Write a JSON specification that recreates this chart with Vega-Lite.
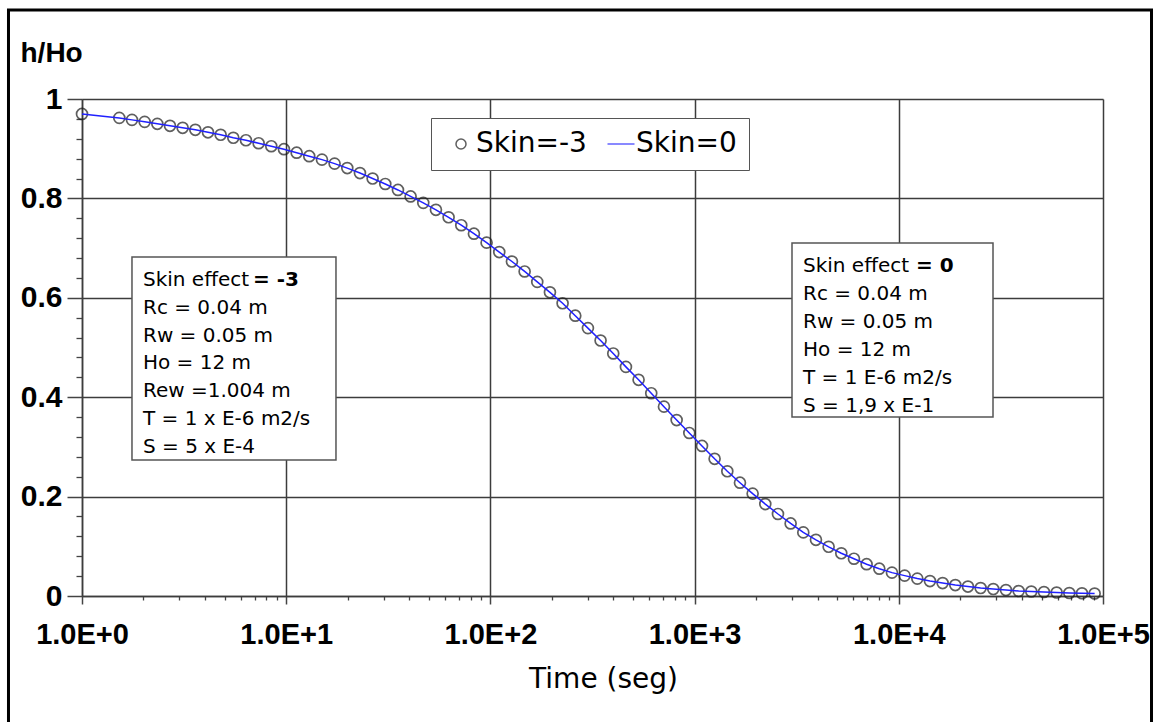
{
  "$schema": "https://vega.github.io/schema/vega-lite/v6.json",
  "width": 1021,
  "height": 497,
  "autosize": {"type": "none"},
  "padding": {"left": 82, "top": 99, "right": 56, "bottom": 126},
  "background": "white",
  "config": {
    "view": {"stroke": null},
    "legend": {
      "orient": "none",
      "legendX": 349,
      "legendY": 19,
      "direction": "horizontal",
      "padding": 12,
      "strokeColor": "#555",
      "fillColor": "white",
      "labelFont": "DejaVu Sans",
      "labelFontSize": 28,
      "labelColor": "black",
      "symbolSize": 100,
      "symbolStrokeWidth": 1.5,
      "symbolOffset": 4,
      "labelOffset": 1,
      "columnPadding": 16,
      "labelLimit": 400
    }
  },
  "data": {
    "values": [
      {"time": 1, "skin_m3": 0.970, "skin_0": 0.970},
      {"time": 1.523, "skin_m3": 0.962, "skin_0": 0.962},
      {"time": 1.757, "skin_m3": 0.958, "skin_0": 0.958},
      {"time": 2.027, "skin_m3": 0.954, "skin_0": 0.954},
      {"time": 2.338, "skin_m3": 0.950, "skin_0": 0.950},
      {"time": 2.697, "skin_m3": 0.946, "skin_0": 0.946},
      {"time": 3.111, "skin_m3": 0.942, "skin_0": 0.942},
      {"time": 3.589, "skin_m3": 0.938, "skin_0": 0.938},
      {"time": 4.140, "skin_m3": 0.933, "skin_0": 0.933},
      {"time": 4.775, "skin_m3": 0.928, "skin_0": 0.928},
      {"time": 5.508, "skin_m3": 0.922, "skin_0": 0.922},
      {"time": 6.353, "skin_m3": 0.917, "skin_0": 0.917},
      {"time": 7.328, "skin_m3": 0.911, "skin_0": 0.911},
      {"time": 8.453, "skin_m3": 0.905, "skin_0": 0.905},
      {"time": 9.752, "skin_m3": 0.899, "skin_0": 0.899},
      {"time": 11.25, "skin_m3": 0.892, "skin_0": 0.892},
      {"time": 12.97, "skin_m3": 0.885, "skin_0": 0.885},
      {"time": 14.97, "skin_m3": 0.878, "skin_0": 0.878},
      {"time": 17.26, "skin_m3": 0.870, "skin_0": 0.870},
      {"time": 19.91, "skin_m3": 0.861, "skin_0": 0.861},
      {"time": 22.97, "skin_m3": 0.851, "skin_0": 0.851},
      {"time": 26.50, "skin_m3": 0.840, "skin_0": 0.840},
      {"time": 30.56, "skin_m3": 0.829, "skin_0": 0.829},
      {"time": 35.26, "skin_m3": 0.817, "skin_0": 0.817},
      {"time": 40.67, "skin_m3": 0.804, "skin_0": 0.804},
      {"time": 46.91, "skin_m3": 0.791, "skin_0": 0.791},
      {"time": 54.11, "skin_m3": 0.777, "skin_0": 0.777},
      {"time": 62.42, "skin_m3": 0.762, "skin_0": 0.762},
      {"time": 72.00, "skin_m3": 0.746, "skin_0": 0.746},
      {"time": 83.05, "skin_m3": 0.729, "skin_0": 0.729},
      {"time": 95.79, "skin_m3": 0.711, "skin_0": 0.711},
      {"time": 110.5, "skin_m3": 0.692, "skin_0": 0.692},
      {"time": 127.5, "skin_m3": 0.673, "skin_0": 0.673},
      {"time": 147.1, "skin_m3": 0.653, "skin_0": 0.653},
      {"time": 169.6, "skin_m3": 0.632, "skin_0": 0.632},
      {"time": 195.7, "skin_m3": 0.611, "skin_0": 0.611},
      {"time": 225.7, "skin_m3": 0.589, "skin_0": 0.589},
      {"time": 260.4, "skin_m3": 0.564, "skin_0": 0.564},
      {"time": 300.3, "skin_m3": 0.539, "skin_0": 0.539},
      {"time": 346.4, "skin_m3": 0.514, "skin_0": 0.514},
      {"time": 399.6, "skin_m3": 0.488, "skin_0": 0.488},
      {"time": 461.0, "skin_m3": 0.461, "skin_0": 0.461},
      {"time": 531.7, "skin_m3": 0.435, "skin_0": 0.435},
      {"time": 613.3, "skin_m3": 0.408, "skin_0": 0.408},
      {"time": 707.9, "skin_m3": 0.381, "skin_0": 0.381},
      {"time": 816.6, "skin_m3": 0.354, "skin_0": 0.354},
      {"time": 942.0, "skin_m3": 0.328, "skin_0": 0.328},
      {"time": 1087, "skin_m3": 0.302, "skin_0": 0.302},
      {"time": 1253, "skin_m3": 0.276, "skin_0": 0.276},
      {"time": 1446, "skin_m3": 0.251, "skin_0": 0.251},
      {"time": 1668, "skin_m3": 0.228, "skin_0": 0.228},
      {"time": 1924, "skin_m3": 0.206, "skin_0": 0.206},
      {"time": 2219, "skin_m3": 0.185, "skin_0": 0.185},
      {"time": 2560, "skin_m3": 0.165, "skin_0": 0.165},
      {"time": 2953, "skin_m3": 0.146, "skin_0": 0.146},
      {"time": 3406, "skin_m3": 0.128, "skin_0": 0.128},
      {"time": 3929, "skin_m3": 0.113, "skin_0": 0.113},
      {"time": 4533, "skin_m3": 0.099, "skin_0": 0.099},
      {"time": 5228, "skin_m3": 0.086, "skin_0": 0.086},
      {"time": 6031, "skin_m3": 0.075, "skin_0": 0.075},
      {"time": 6957, "skin_m3": 0.064, "skin_0": 0.064},
      {"time": 8026, "skin_m3": 0.055, "skin_0": 0.055},
      {"time": 9259, "skin_m3": 0.047, "skin_0": 0.047},
      {"time": 10680, "skin_m3": 0.041, "skin_0": 0.041},
      {"time": 12320, "skin_m3": 0.035, "skin_0": 0.035},
      {"time": 14210, "skin_m3": 0.030, "skin_0": 0.030},
      {"time": 16390, "skin_m3": 0.026, "skin_0": 0.026},
      {"time": 18910, "skin_m3": 0.022, "skin_0": 0.022},
      {"time": 21810, "skin_m3": 0.019, "skin_0": 0.019},
      {"time": 25160, "skin_m3": 0.016, "skin_0": 0.016},
      {"time": 29020, "skin_m3": 0.014, "skin_0": 0.014},
      {"time": 33480, "skin_m3": 0.012, "skin_0": 0.012},
      {"time": 38620, "skin_m3": 0.010, "skin_0": 0.010},
      {"time": 44550, "skin_m3": 0.009, "skin_0": 0.009},
      {"time": 51390, "skin_m3": 0.008, "skin_0": 0.008},
      {"time": 59280, "skin_m3": 0.007, "skin_0": 0.007},
      {"time": 68390, "skin_m3": 0.006, "skin_0": 0.006},
      {"time": 78890, "skin_m3": 0.0055, "skin_0": 0.0055},
      {"time": 91000, "skin_m3": 0.005, "skin_0": 0.005}
    ]
  },
  "layer": [
    {
      "data": {"values": [{}]},
      "mark": {"type": "rect", "fill": null, "stroke": "black", "strokeWidth": 3},
      "encoding": {
        "x": {"datum": 0.4365, "type": "quantitative",
          "scale": {"type": "log", "domain": [1, 100000], "nice": false},
          "axis": {"orient": "bottom", "values": [2,3,4,5,6,7,8,9,20,30,40,50,60,70,80,90,200,300,400,500,600,700,800,900,2000,3000,4000,5000,6000,7000,8000,9000,20000,30000,40000,50000,60000,70000,80000,90000],
            "labels": false, "grid": false, "domain": false, "title": null, "tickSize": 4, "tickColor": "#444", "tickWidth": 1.3}},
        "x2": {"datum": 172800},
        "y": {"datum": 1.179, "type": "quantitative",
          "scale": {"domain": [0, 1], "nice": false, "zero": false},
          "axis": {"orient": "left", "values": [0.04,0.08,0.12,0.16,0.24,0.28,0.32,0.36,0.44,0.48,0.52,0.56,0.64,0.68,0.72,0.76,0.84,0.88,0.92,0.96],
            "labels": false, "grid": false, "domain": false, "title": null, "tickSize": 6, "tickColor": "#444", "tickWidth": 1.3}},
        "y2": {"datum": -0.27}
      }
    },
    {
      "mark": {"type": "point", "shape": "circle", "filled": false, "size": 120, "strokeWidth": 1.7},
      "encoding": {
        "x": {"field": "time", "type": "quantitative",
          "scale": {"type": "log", "domain": [1, 100000], "nice": false},
          "axis": {"orient": "bottom", "values": [1, 10, 100, 1000, 10000, 100000],
            "labelExpr": "'1.0E+' + round(log(datum.value) / LN10)",
            "labelFont": "Liberation Sans", "labelFontWeight": "bold", "labelFontSize": 29, "labelColor": "black",
            "labelFlush": false, "labelOverlap": false, "labelPadding": 16,
            "tickSize": 8, "tickColor": "#444", "tickWidth": 1.5,
            "grid": true, "gridColor": "#3c3c3c", "gridWidth": 1.5, "gridOpacity": 1,
            "domainColor": "#3c3c3c", "domainWidth": 1.5,
            "title": "Time (seg)", "titleFont": "DejaVu Sans", "titleFontSize": 28, "titleFontWeight": "normal", "titleColor": "black",
            "titleX": 521, "titleY": 91, "titleAlign": "center", "titleBaseline": "alphabetic"}},
        "y": {"field": "skin_m3", "type": "quantitative",
          "scale": {"domain": [0, 1], "nice": false, "zero": false},
          "axis": {"orient": "left", "values": [0, 0.2, 0.4, 0.6, 0.8, 1], "format": "~g",
            "labelFont": "Liberation Sans", "labelFontWeight": "bold", "labelFontSize": 30, "labelColor": "black",
            "labelPadding": 5, "labelFlush": false, "labelOverlap": false,
            "tickSize": 15, "tickColor": "#444", "tickWidth": 1.5,
            "grid": true, "gridColor": "#3c3c3c", "gridWidth": 1.5, "gridOpacity": 1,
            "domainColor": "#3c3c3c", "domainWidth": 1.5,
            "title": "h/Ho", "titleFont": "Liberation Sans", "titleFontSize": 28, "titleFontWeight": "bold", "titleColor": "black",
            "titleAngle": 0, "titleX": -62, "titleY": -38, "titleAlign": "left", "titleBaseline": "alphabetic"}},
        "color": {"datum": "Skin=-3", "type": "nominal",
          "scale": {"domain": ["Skin=-3", "Skin=0"], "range": ["#1c1c1c", "#2020ff"]},
          "legend": {"title": null}},
        "shape": {"datum": "Skin=-3", "type": "nominal",
          "scale": {"domain": ["Skin=-3", "Skin=0"], "range": ["circle", "M-2.7,0L2.7,0"]},
          "legend": {"title": null}}
      }
    },
    {
      "mark": {"type": "line", "strokeWidth": 1.5},
      "encoding": {
        "x": {"field": "time", "type": "quantitative",
          "scale": {"type": "log", "domain": [1, 100000], "nice": false}, "axis": null},
        "y": {"field": "skin_0", "type": "quantitative",
          "scale": {"domain": [0, 1], "nice": false, "zero": false}, "axis": null},
        "color": {"datum": "Skin=0", "type": "nominal",
          "scale": {"domain": ["Skin=-3", "Skin=0"], "range": ["#1c1c1c", "#2020ff"]},
          "legend": {"title": null}}
      }
    },
    {
      "data": {"values": [{}]},
      "mark": {"type": "rect", "fill": "white", "stroke": "#555", "strokeWidth": 1.5},
      "encoding": {
        "x": {"datum": 1.757, "type": "quantitative", "scale": {"type": "log", "domain": [1, 100000], "nice": false}, "axis": null},
        "x2": {"datum": 17.53},
        "y": {"datum": 0.6821, "type": "quantitative", "scale": {"domain": [0, 1], "nice": false, "zero": false}, "axis": null},
        "y2": {"datum": 0.2736}
      }
    },
    {
      "data": {"values": [{}]},
      "mark": {"type": "rect", "fill": "white", "stroke": "#555", "strokeWidth": 1.5},
      "encoding": {
        "x": {"datum": 2999, "type": "quantitative", "scale": {"type": "log", "domain": [1, 100000], "nice": false}, "axis": null},
        "x2": {"datum": 28930},
        "y": {"datum": 0.7103, "type": "quantitative", "scale": {"domain": [0, 1], "nice": false, "zero": false}, "axis": null},
        "y2": {"datum": 0.3602}
      }
    },
    {
      "data": {"values": [{}]},
      "mark": {"type": "text", "align": "left", "baseline": "alphabetic", "font": "DejaVu Sans", "fontSize": 20, "lineHeight": 27.8, "color": "black"},
      "encoding": {
        "x": {"datum": 1.989, "type": "quantitative", "scale": {"type": "log", "domain": [1, 100000], "nice": false}, "axis": null},
        "y": {"datum": 0.6237, "type": "quantitative", "scale": {"domain": [0, 1], "nice": false, "zero": false}, "axis": null},
        "text": {"value": ["Skin effect", "Rc = 0.04 m", "Rw = 0.05 m", "Ho = 12 m", "Rew =1.004 m", "T = 1 x E-6 m2/s", "S = 5 x E-4"]}
      }
    },
    {
      "data": {"values": [{}]},
      "mark": {"type": "text", "align": "left", "baseline": "alphabetic", "font": "DejaVu Sans", "fontSize": 20, "fontWeight": "bold", "color": "black", "dx": 110},
      "encoding": {
        "x": {"datum": 1.989, "type": "quantitative", "scale": {"type": "log", "domain": [1, 100000], "nice": false}, "axis": null},
        "y": {"datum": 0.6237, "type": "quantitative", "scale": {"domain": [0, 1], "nice": false, "zero": false}, "axis": null},
        "text": {"value": "= -3"}
      }
    },
    {
      "data": {"values": [{}]},
      "mark": {"type": "text", "align": "left", "baseline": "alphabetic", "font": "DejaVu Sans", "fontSize": 20, "lineHeight": 28, "color": "black"},
      "encoding": {
        "x": {"datum": 3395, "type": "quantitative", "scale": {"type": "log", "domain": [1, 100000], "nice": false}, "axis": null},
        "y": {"datum": 0.6519, "type": "quantitative", "scale": {"domain": [0, 1], "nice": false, "zero": false}, "axis": null},
        "text": {"value": ["Skin effect", "Rc = 0.04 m", "Rw = 0.05 m", "Ho = 12 m", "T = 1 E-6 m2/s", "S = 1,9 x E-1"]}
      }
    },
    {
      "data": {"values": [{}]},
      "mark": {"type": "text", "align": "left", "baseline": "alphabetic", "font": "DejaVu Sans", "fontSize": 20, "fontWeight": "bold", "color": "black", "dx": 113},
      "encoding": {
        "x": {"datum": 3395, "type": "quantitative", "scale": {"type": "log", "domain": [1, 100000], "nice": false}, "axis": null},
        "y": {"datum": 0.6519, "type": "quantitative", "scale": {"domain": [0, 1], "nice": false, "zero": false}, "axis": null},
        "text": {"value": "= 0"}
      }
    }
  ],
  "resolve": {"axis": {"x": "independent", "y": "independent"}}
}
